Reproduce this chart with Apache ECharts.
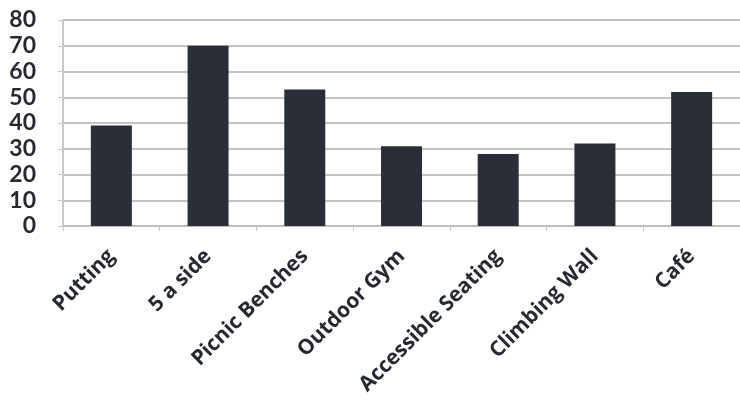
<!DOCTYPE html>
<html>
<head>
<meta charset="utf-8">
<script src="https://cdn.jsdelivr.net/npm/echarts@6/dist/echarts.min.js"></script>
<style>
html,body{margin:0;padding:0;background:#fff;}
#chart{width:740px;height:403px;}
</style>
</head>
<body>
<div id="chart"></div>
<script>
var categories = ["Putting", "5 a side", "Picnic Benches", "Outdoor Gym", "Accessible Seating", "Climbing Wall", "Café"];
var values = [39, 70, 53, 31, 28, 32, 52];
var yTicks = [0, 10, 20, 30, 40, 50, 60, 70, 80];

var chart = echarts.init(document.getElementById('chart'), null, {renderer: 'canvas'});
chart.setOption({
  animation: false,
  backgroundColor: '#ffffff',
  grid: {left: 63, top: 20, width: 686, bottom: 177, containLabel: false},
  xAxis: {
    type: 'category',
    data: categories,
    axisLine: {show: true, lineStyle: {color: '#bdbdbd', width: 2}},
    axisTick: {show: true, alignWithLabel: false, length: 5, lineStyle: {color: '#c8c8c8'}},
    axisLabel: {
      rotate: 45,
      interval: 0,
      margin: 27,
      color: '#262a30',
      fontFamily: 'Open Sans',
      fontWeight: 'bold',
      fontSize: 21
    }
  },
  yAxis: {
    type: 'value',
    min: yTicks[0],
    max: yTicks[yTicks.length - 1],
    interval: 10,
    axisLine: {show: true, lineStyle: {color: '#c8c8c8', width: 2}},
    axisTick: {show: true, length: 5, lineStyle: {color: '#c8c8c8'}},
    splitLine: {show: true, lineStyle: {color: '#c4c4c4', width: 2}},
    axisLabel: {
      margin: 27,
      color: '#262a30',
      fontFamily: 'Lato',
      fontWeight: 'bold',
      fontSize: 23
    }
  },
  series: [{
    type: 'bar',
    data: values,
    barWidth: 41,
    itemStyle: {color: '#2a2f37'}
  }]
});
</script>
</body>
</html>
